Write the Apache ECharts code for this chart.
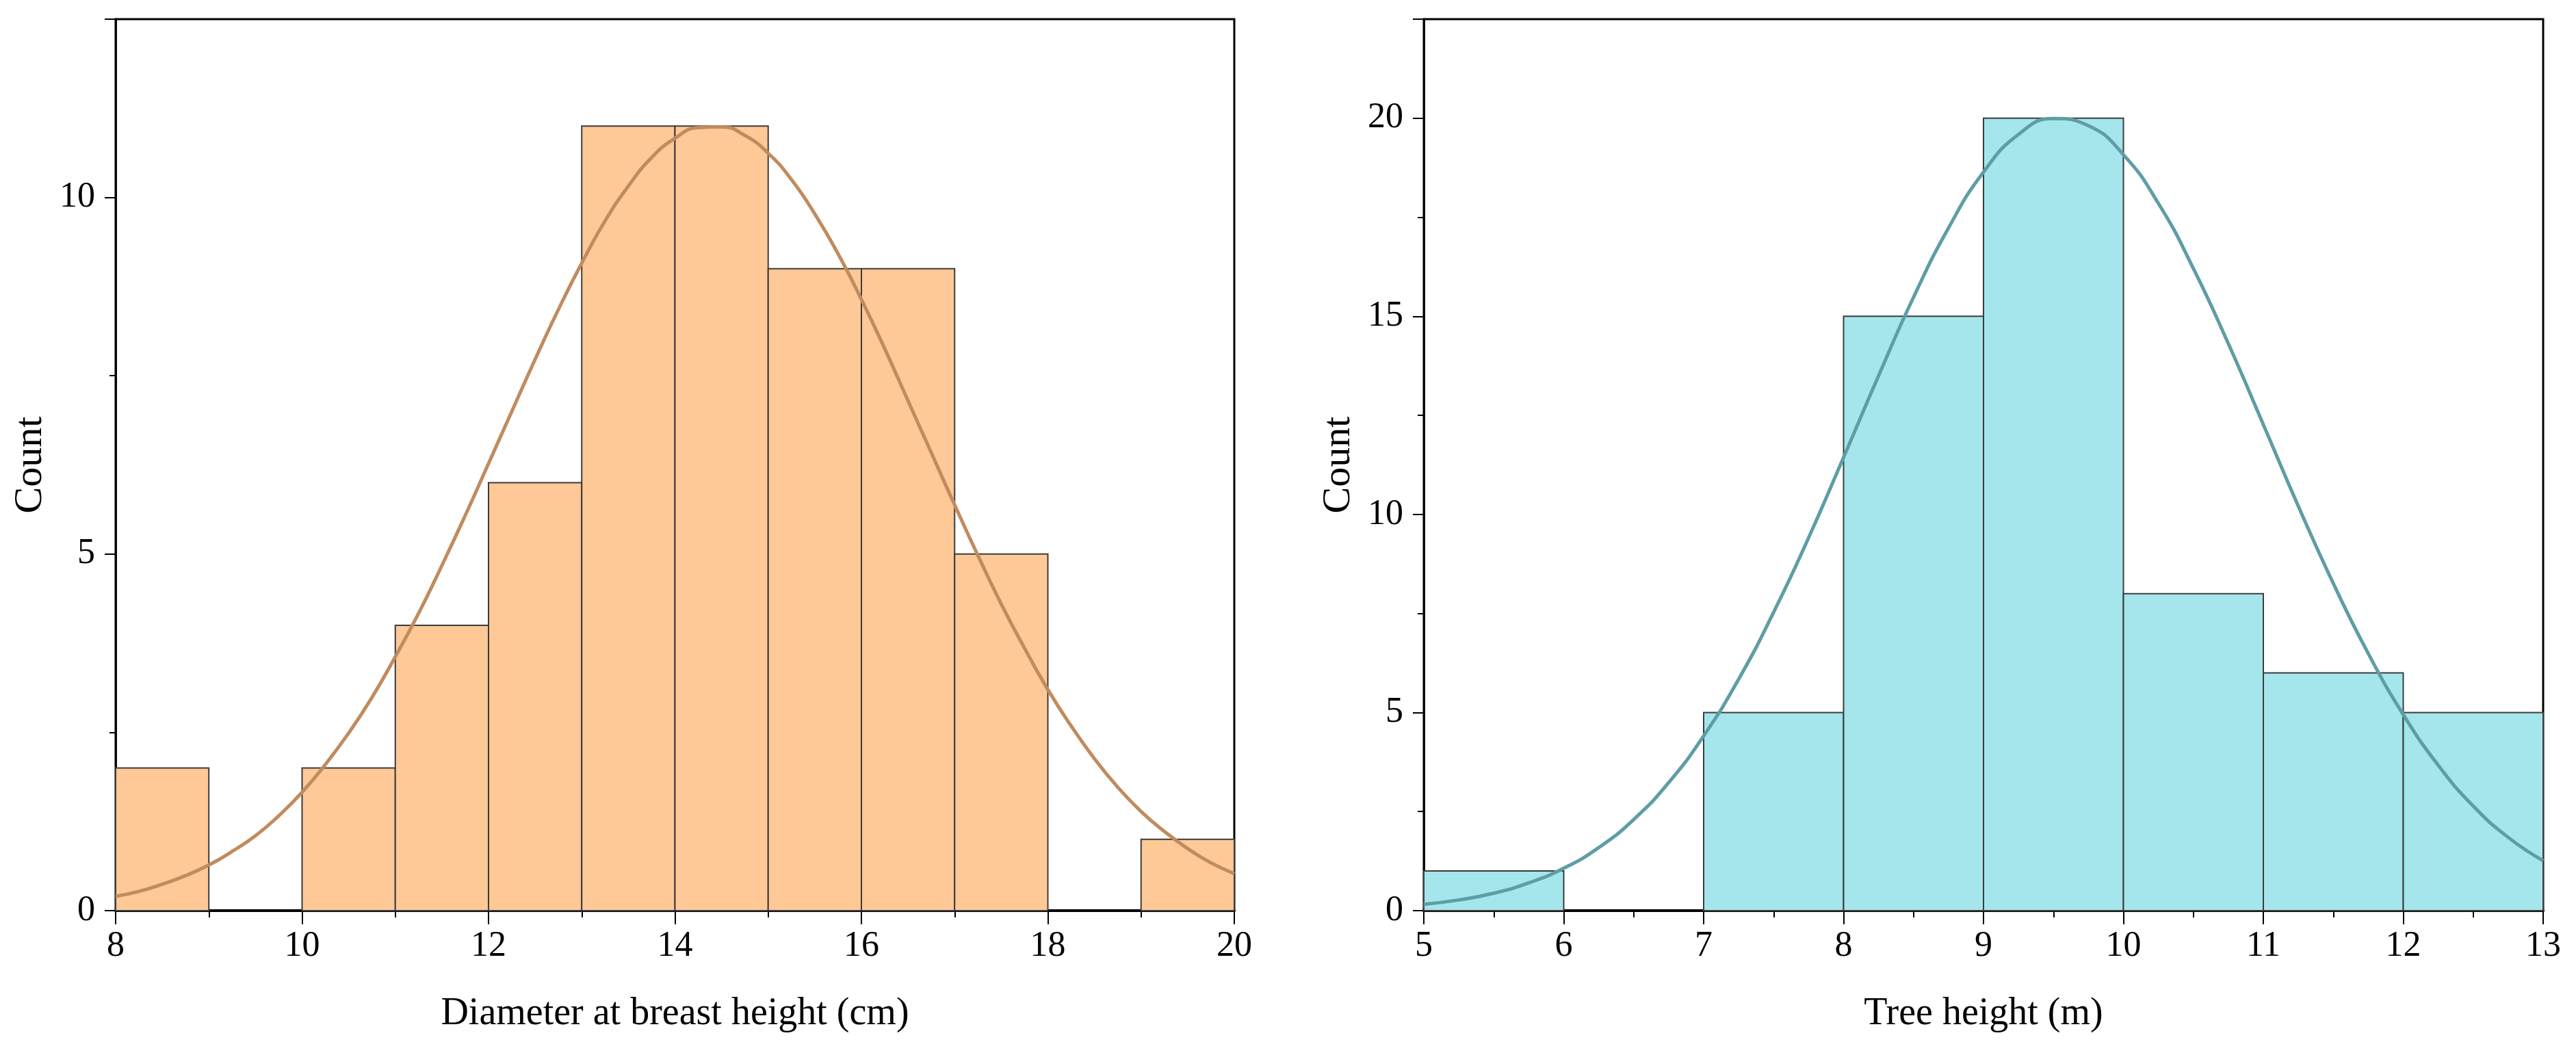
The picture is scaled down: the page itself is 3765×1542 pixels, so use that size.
<!DOCTYPE html>
<html lang="en">
  <head>
    <meta charset="UTF-8" />
    <title>Histograms: DBH and tree height</title>
    <script src="https://cdn.jsdelivr.net/npm/echarts@6/dist/echarts.min.js"></script>
    <style>
      html, body { margin: 0; padding: 0; background: #fff; }
      #main { width: 3765px; height: 1542px; }
    </style>
  </head>
  <body>
    <div id="main"></div>
    <script>
      // bin edges and counts
      const dbhEdges = [8, 9, 10, 11, 12, 13, 14, 15, 16, 17, 18, 19, 20];
      const dbhCounts = [2, 0, 2, 4, 6, 11, 11, 9, 9, 5, 0, 1];
      const heightEdges = [5, 6, 7, 8, 9, 10, 11, 12, 13];
      const heightCounts = [1, 0, 5, 15, 20, 8, 6, 5];

      // fitted normal curves
      const dbhCurveX = [8, 8.25, 8.5, 8.75, 9, 9.25, 9.5, 9.75, 10, 10.25, 10.5, 10.75, 11, 11.25, 11.5, 11.75,
        12, 12.25, 12.5, 12.75, 13, 13.25, 13.5, 13.75, 14, 14.25, 14.5, 14.75, 15, 15.25, 15.5, 15.75,
        16, 16.25, 16.5, 16.75, 17, 17.25, 17.5, 17.75, 18, 18.25, 18.5, 18.75, 19, 19.25, 19.5, 19.75, 20];
      const dbhCurveY = [0.2, 0.27, 0.37, 0.49, 0.64, 0.83, 1.05, 1.33, 1.66, 2.05, 2.49, 2.99, 3.56, 4.17, 4.84, 5.54,
        6.27, 7.0, 7.73, 8.43, 9.08, 9.67, 10.16, 10.56, 10.83, 10.98, 10.99, 10.87, 10.62, 10.25, 9.77, 9.21,
        8.57, 7.88, 7.15, 6.42, 5.69, 4.98, 4.3, 3.68, 3.1, 2.59, 2.13, 1.73, 1.39, 1.11, 0.87, 0.67, 0.52];
      const heightCurveX = [5, 5.25, 5.5, 5.75, 6, 6.25, 6.5, 6.75, 7, 7.25, 7.5, 7.75, 8, 8.25, 8.5, 8.75,
        9, 9.25, 9.5, 9.75, 10, 10.25, 10.5, 10.75, 11, 11.25, 11.5, 11.75, 12, 12.25, 12.5, 12.75, 13];
      const heightCurveY = [0.16, 0.27, 0.44, 0.7, 1.07, 1.59, 2.3, 3.23, 4.41, 5.84, 7.53, 9.41, 11.44, 13.5, 15.48, 17.23,
        18.64, 19.59, 19.99, 19.81, 19.08, 17.85, 16.21, 14.31, 12.27, 10.21, 8.26, 6.49, 4.95, 3.67, 2.64, 1.85, 1.26];

      const font = "'Liberation Serif', 'Times New Roman', serif";

      const binData = (edges, counts) =>
        counts.map((c, i) => [edges[i], edges[i + 1], c]);

      const zip = (xs, ys) => xs.map((x, i) => [x, ys[i]]);

      // histogram bars drawn through the axis scales
      const barRenderer = (fill) => (params, api) => {
        const count = api.value(2);
        if (!count) return null;
        const p0 = api.coord([api.value(0), count]);
        const p1 = api.coord([api.value(1), 0]);
        return {
          type: "rect",
          shape: { x: p0[0], y: p0[1], width: p1[0] - p0[0], height: p1[1] - p0[1] },
          style: { fill: fill, stroke: "#3c3c3c", lineWidth: 2 },
        };
      };

      const xAxisOf = (gridIndex, min, max, interval, name) => ({
        type: "value",
        gridIndex,
        min,
        max,
        interval,
        name,
        nameLocation: "middle",
        nameGap: 123,
        nameTextStyle: { fontFamily: font, fontSize: 56, color: "#000" },
        axisLine: { show: true, lineStyle: { color: "#000", width: 4 } },
        axisTick: { show: true, inside: false, length: 20, lineStyle: { color: "#000", width: 2 } },
        minorTick: { show: true, splitNumber: 2, length: 10, lineStyle: { color: "#000", width: 2 } },
        axisLabel: { fontFamily: font, fontSize: 52, color: "#000", margin: 26 },
        splitLine: { show: false },
      });

      const yAxisOf = (gridIndex, max) => ({
        type: "value",
        gridIndex,
        min: 0,
        max,
        interval: 5,
        name: "Count",
        nameLocation: "middle",
        nameGap: 95,
        nameTextStyle: { fontFamily: font, fontSize: 58, color: "#000" },
        axisLine: { show: true, lineStyle: { color: "#000", width: 3 } },
        axisTick: { show: true, inside: false, length: 16, lineStyle: { color: "#000", width: 2 } },
        minorTick: { show: true, splitNumber: 2, length: 9, lineStyle: { color: "#000", width: 2 } },
        axisLabel: { fontFamily: font, fontSize: 52, color: "#000", margin: 30, showMaxLabel: false },
        splitLine: { show: false },
      });

      const chart = echarts.init(document.getElementById("main"));

      const option = {
        animation: false,
        backgroundColor: "#fff",
        grid: [
          { left: 169, right: 1961, top: 28, bottom: 211, show: true, borderColor: "#000", borderWidth: 3 },
          { left: 2081, right: 48, top: 28, bottom: 211, show: true, borderColor: "#000", borderWidth: 3 },
        ],
        xAxis: [
          xAxisOf(0, 8, 20, 2, "Diameter at breast height (cm)"),
          xAxisOf(1, 5, 13, 1, "Tree height (m)"),
        ],
        yAxis: [yAxisOf(0, 12.5), yAxisOf(1, 22.5)],
        series: [
          {
            type: "custom",
            xAxisIndex: 0,
            yAxisIndex: 0,
            renderItem: barRenderer("#FEC897"),
            data: binData(dbhEdges, dbhCounts),
            z: 2,
          },
          {
            type: "line",
            xAxisIndex: 0,
            yAxisIndex: 0,
            data: zip(dbhCurveX, dbhCurveY),
            smooth: true,
            showSymbol: false,
            lineStyle: { color: "#C08B5E", width: 5 },
            z: 3,
          },
          {
            type: "custom",
            xAxisIndex: 1,
            yAxisIndex: 1,
            renderItem: barRenderer("#A5E6EC"),
            data: binData(heightEdges, heightCounts),
            z: 2,
          },
          {
            type: "line",
            xAxisIndex: 1,
            yAxisIndex: 1,
            data: zip(heightCurveX, heightCurveY),
            smooth: true,
            showSymbol: false,
            lineStyle: { color: "#5F9DA5", width: 5 },
            z: 3,
          },
        ],
      };

      chart.setOption(option);
    </script>
  </body>
</html>
